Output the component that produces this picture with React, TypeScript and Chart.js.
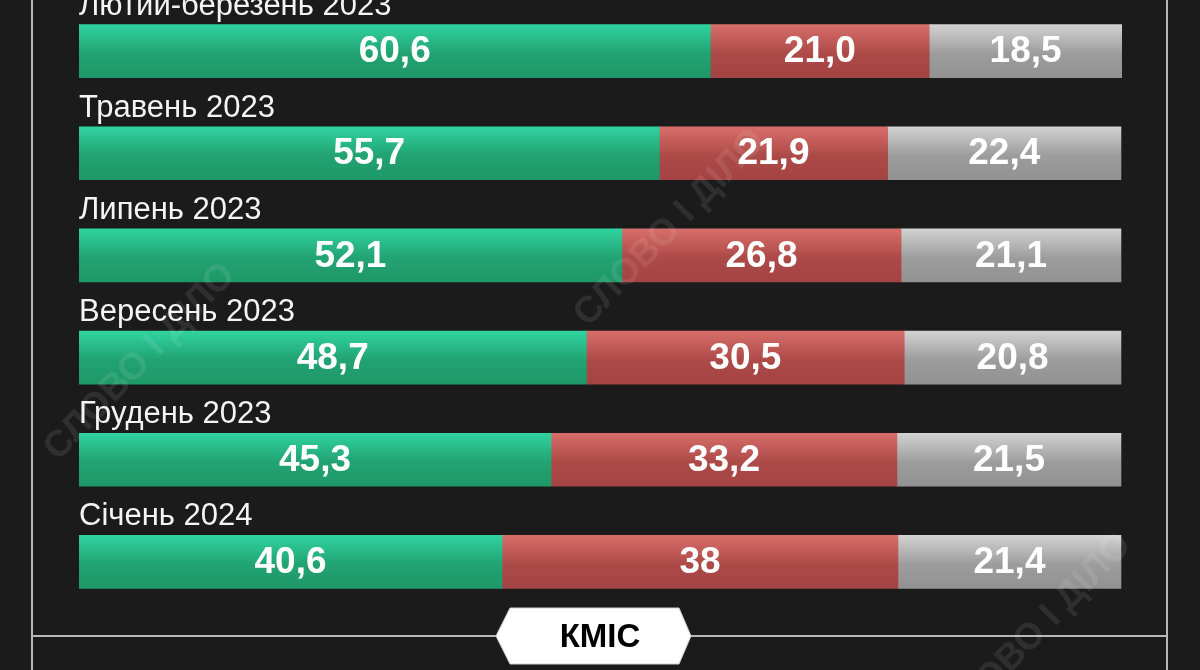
import React, { useEffect, useRef } from "react";
import { Chart, registerables } from "chart.js";

Chart.register(...registerables);

const categories = [
  "Лютий-березень 2023",
  "Травень 2023",
  "Липень 2023",
  "Вересень 2023",
  "Грудень 2023",
  "Січень 2024",
];
const greenValues = [60.6, 55.7, 52.1, 48.7, 45.3, 40.6];
const redValues = [21.0, 21.9, 26.8, 30.5, 33.2, 38];
const grayValues = [18.5, 22.4, 21.1, 20.8, 21.5, 21.4];
const greenDecimals = [1, 1, 1, 1, 1, 1];
const redDecimals = [1, 1, 1, 1, 1, 0];
const grayDecimals = [1, 1, 1, 1, 1, 1];
const sourceLabel = "КМІС";
const watermarkText = "СЛОВО І ДІЛО";

const FONT = "'Liberation Sans', Arial, sans-serif";
const BAR_THICKNESS = 53;

const gradStops: Record<string, [string, string, string]> = {
  green: ["#30d3a0", "#22a272", "#1f9869"],
  red: ["#d86e6a", "#ac4a48", "#a44343"],
  gray: ["#d2d2d2", "#9c9c9c", "#929292"],
};

function makeGradient(key: string) {
  return (ctx: any) => {
    const chart = ctx.chart;
    const s = gradStops[key];
    const y = chart.scales && chart.scales.y;
    if (!y || ctx.dataIndex === undefined || !chart.chartArea) return s[1];
    const c = y.getPixelForValue(ctx.dataIndex);
    if (!isFinite(c)) return s[1];
    const top = c - BAR_THICKNESS / 2;
    const g = chart.ctx.createLinearGradient(0, top, 0, top + BAR_THICKNESS);
    g.addColorStop(0, s[0]);
    g.addColorStop(0.55, s[1]);
    g.addColorStop(1, s[2]);
    return g;
  };
}

const decoPlugin = {
  id: "deco",
  beforeDraw(chart: any) {
    const ctx = chart.ctx;
    ctx.save();
    ctx.fillStyle = "#1b1b1b";
    ctx.fillRect(0, 0, chart.width, chart.height);
    ctx.strokeStyle = "#b8b8b8";
    ctx.lineWidth = 2;
    ctx.beginPath();
    ctx.moveTo(32, 0);
    ctx.lineTo(32, chart.height);
    ctx.moveTo(1167, 0);
    ctx.lineTo(1167, chart.height);
    ctx.moveTo(32, 636);
    ctx.lineTo(1167, 636);
    ctx.stroke();
    ctx.restore();
  },
  afterDatasetsDraw(chart: any) {
    const ctx = chart.ctx;
    ctx.save();
    const meta0 = chart.getDatasetMeta(0);
    ctx.fillStyle = "#f4f4f4";
    ctx.font = `31px ${FONT}`;
    ctx.textAlign = "left";
    ctx.textBaseline = "alphabetic";
    meta0.data.forEach((bar: any, i: number) => {
      const top = bar.y - BAR_THICKNESS / 2;
      ctx.fillText(categories[i], chart.chartArea.left, top - 10);
    });
    const decs = [greenDecimals, redDecimals, grayDecimals];
    ctx.fillStyle = "#ffffff";
    ctx.font = `bold 37px ${FONT}`;
    ctx.textAlign = "center";
    ctx.textBaseline = "middle";
    chart.data.datasets.forEach((ds: any, di: number) => {
      const meta = chart.getDatasetMeta(di);
      meta.data.forEach((bar: any, i: number) => {
        const v = ds.data[i] as number;
        const txt = v.toFixed(decs[di][i]).replace(".", ",");
        const cx = (bar.base + bar.x) / 2;
        ctx.fillText(txt, cx, bar.y + 1);
      });
    });
    ctx.fillStyle = "rgba(255,255,255,0.09)";
    ctx.font = `bold 37px ${FONT}`;
    const marks = [
      [140, 362],
      [670, 228],
      [1036, 632],
    ];
    marks.forEach(([x, y]) => {
      ctx.save();
      ctx.translate(x, y);
      ctx.rotate((-46 * Math.PI) / 180);
      ctx.fillText(watermarkText, 0, 0);
      ctx.restore();
    });
    ctx.fillStyle = "#ffffff";
    ctx.strokeStyle = "#cfcfcf";
    ctx.lineWidth = 1;
    ctx.beginPath();
    ctx.moveTo(496, 636);
    ctx.lineTo(510, 608);
    ctx.lineTo(679, 608);
    ctx.lineTo(691, 636);
    ctx.lineTo(679, 664);
    ctx.lineTo(510, 664);
    ctx.closePath();
    ctx.fill();
    ctx.stroke();
    ctx.fillStyle = "#000000";
    ctx.font = `bold 33px ${FONT}`;
    ctx.textAlign = "center";
    ctx.textBaseline = "middle";
    ctx.fillText(sourceLabel, 600, 638);
    ctx.restore();
  },
};

export default function App() {
  const ref = useRef<HTMLCanvasElement | null>(null);
  useEffect(() => {
    document.body.style.margin = "0";
    document.body.style.background = "#1b1b1b";
    const canvas = ref.current;
    if (!canvas) return;
    const chart = new Chart(canvas, {
      type: "bar",
      data: {
        labels: categories,
        datasets: [
          { data: greenValues, backgroundColor: makeGradient("green") as any, barThickness: BAR_THICKNESS, borderWidth: 0 },
          { data: redValues, backgroundColor: makeGradient("red") as any, barThickness: BAR_THICKNESS, borderWidth: 0 },
          { data: grayValues, backgroundColor: makeGradient("gray") as any, barThickness: BAR_THICKNESS, borderWidth: 0 },
        ],
      },
      options: {
        indexAxis: "y",
        responsive: false,
        maintainAspectRatio: false,
        animation: false,
        events: [],
        layout: { padding: { left: 79, right: 78, top: 0, bottom: 57 } },
        scales: {
          x: { display: false, stacked: true, min: 0, max: 100.1 },
          y: { display: false, stacked: true },
        },
        plugins: {
          legend: { display: false },
          tooltip: { enabled: false },
          title: { display: false },
        },
      },
      plugins: [decoPlugin],
    });
    return () => chart.destroy();
  }, []);
  return (
    <div style={{ position: "absolute", left: 0, top: 0, width: 1200, height: 670, background: "#1b1b1b" }}>
      <canvas ref={ref} width={1200} height={670} style={{ display: "block", width: 1200, height: 670 }} />
    </div>
  );
}
